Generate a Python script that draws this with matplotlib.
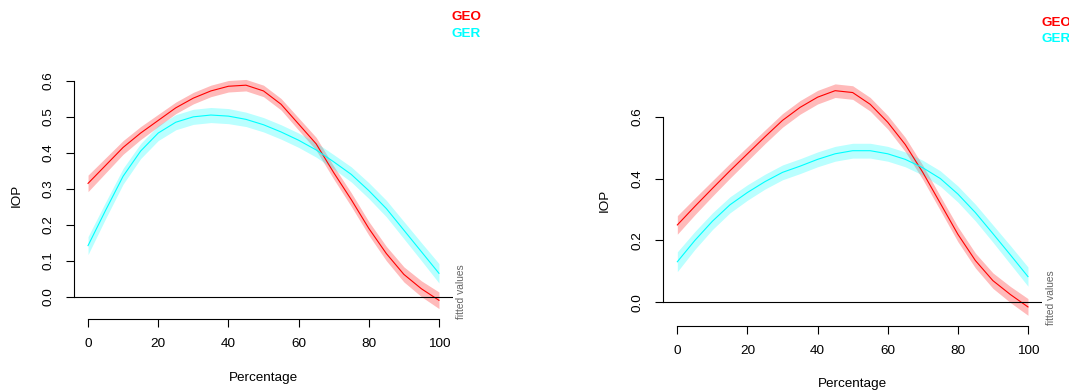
import numpy as np
import matplotlib
matplotlib.use('Agg')
import matplotlib.pyplot as plt

plt.rcParams['font.family'] = ['Liberation Sans', 'DejaVu Sans']

# percentage grid shared by all fitted curves
pct = [0, 5, 10, 15, 20, 25, 30, 35, 40, 45, 50,
       55, 60, 65, 70, 75, 80, 85, 90, 95, 100]

# left panel
geo_left = [0.315, 0.365, 0.415, 0.455, 0.490, 0.525, 0.552, 0.572, 0.585, 0.588, 0.572,
            0.535, 0.480, 0.425, 0.345, 0.270, 0.190, 0.120, 0.062, 0.022, -0.010]
geo_left_se = [0.023, 0.021, 0.019, 0.018, 0.017, 0.016, 0.016, 0.016, 0.016, 0.016, 0.016,
               0.016, 0.017, 0.018, 0.018, 0.019, 0.019, 0.020, 0.021, 0.022, 0.023]
ger_left = [0.142, 0.240, 0.335, 0.405, 0.455, 0.485, 0.500, 0.505, 0.502, 0.493, 0.478,
            0.458, 0.435, 0.408, 0.375, 0.340, 0.295, 0.245, 0.185, 0.125, 0.065]
ger_left_se = [0.025, 0.023, 0.022, 0.021, 0.021, 0.021, 0.021, 0.021, 0.021, 0.020, 0.020,
               0.020, 0.020, 0.020, 0.020, 0.021, 0.022, 0.023, 0.024, 0.025, 0.027]

# right panel
geo_right = [0.250, 0.310, 0.368, 0.425, 0.480, 0.535, 0.588, 0.630, 0.663, 0.684, 0.678,
             0.640, 0.582, 0.510, 0.420, 0.320, 0.220, 0.135, 0.070, 0.025, -0.015]
geo_right_se = [0.030, 0.027, 0.025, 0.024, 0.023, 0.022, 0.022, 0.022, 0.022, 0.022, 0.022,
                0.022, 0.022, 0.023, 0.023, 0.023, 0.024, 0.024, 0.025, 0.026, 0.027]
ger_right = [0.131, 0.200, 0.262, 0.315, 0.355, 0.390, 0.420, 0.440, 0.462, 0.480, 0.490,
             0.490, 0.480, 0.462, 0.435, 0.400, 0.350, 0.290, 0.222, 0.153, 0.083]
ger_right_se = [0.032, 0.029, 0.027, 0.026, 0.025, 0.024, 0.024, 0.024, 0.024, 0.024, 0.024,
                0.024, 0.024, 0.024, 0.024, 0.025, 0.026, 0.027, 0.028, 0.030, 0.031]

left_yticks = [0.0, 0.1, 0.2, 0.3, 0.4, 0.5, 0.6]
right_yticks = [0.0, 0.2, 0.4, 0.6]
xticks = [0, 20, 40, 60, 80, 100]

W, H = 1069, 391
fig = plt.figure(figsize=(W / 100, H / 100), dpi=100)


def px(x, y):
    return x / W, 1 - y / H


def panel(left, right, bottom, top, ymin, ymax, yticks, series, ylabel_xy, xlabel_xy,
          legend_xy, fitted_xy):
    ax = fig.add_axes([left / W, 1 - bottom / H, (right - left) / W, (bottom - top) / H])
    for y, se, col in series:
        y = np.array(y)
        se = np.array(se)
        ax.fill_between(pct, y - se, y + se, color=col, alpha=0.27, lw=0)
        ax.plot(pct, y, color=col, lw=0.8)
    ax.axhline(0, color='black', lw=0.8)
    ax.set_xlim(-4, 104)
    ax.set_ylim(ymin, ymax)
    for s in ['top', 'right']:
        ax.spines[s].set_visible(False)
    ax.spines['left'].set_bounds(yticks[0], yticks[-1])
    ax.spines['bottom'].set_bounds(0, 100)
    for s in ['left', 'bottom']:
        ax.spines[s].set_linewidth(0.8)
    ax.set_xticks(xticks)
    ax.set_yticks(yticks)
    ax.set_yticklabels([f'{v:.1f}' for v in yticks], rotation=90, va='center')
    ax.tick_params(length=6, width=0.8, labelsize=9.7, pad=8)
    fig.text(*px(*ylabel_xy), 'IOP', rotation=90, ha='center', va='center', fontsize=9.7)
    fig.text(*px(*xlabel_xy), 'Percentage', ha='center', va='center', fontsize=9.7)
    fig.text(*px(legend_xy[0], legend_xy[1]), 'GEO', color='red', fontweight='bold',
             ha='left', va='center', fontsize=9.7)
    fig.text(*px(legend_xy[0], legend_xy[1] + 16.5), 'GER', color='cyan', fontweight='bold',
             ha='left', va='center', fontsize=9.7)
    fig.text(*px(*fitted_xy), 'fitted values', rotation=90, color='#666666',
             ha='center', va='center', fontsize=7.4)
    return ax


panel(74, 453, 319, 60, -0.062, 0.658, left_yticks,
      [(geo_left, geo_left_se, 'red'), (ger_left, ger_left_se, 'cyan')],
      (17, 195), (263.5, 378), (452, 17.5), (461, 292))

panel(663.3, 1042, 326, 65, -0.0766, 0.767, right_yticks,
      [(geo_right, geo_right_se, 'red'), (ger_right, ger_right_se, 'cyan')],
      (605, 200), (852.7, 384), (1041, 22.7), (1051, 298))

fig.savefig('out.png', dpi=100, facecolor='white')
